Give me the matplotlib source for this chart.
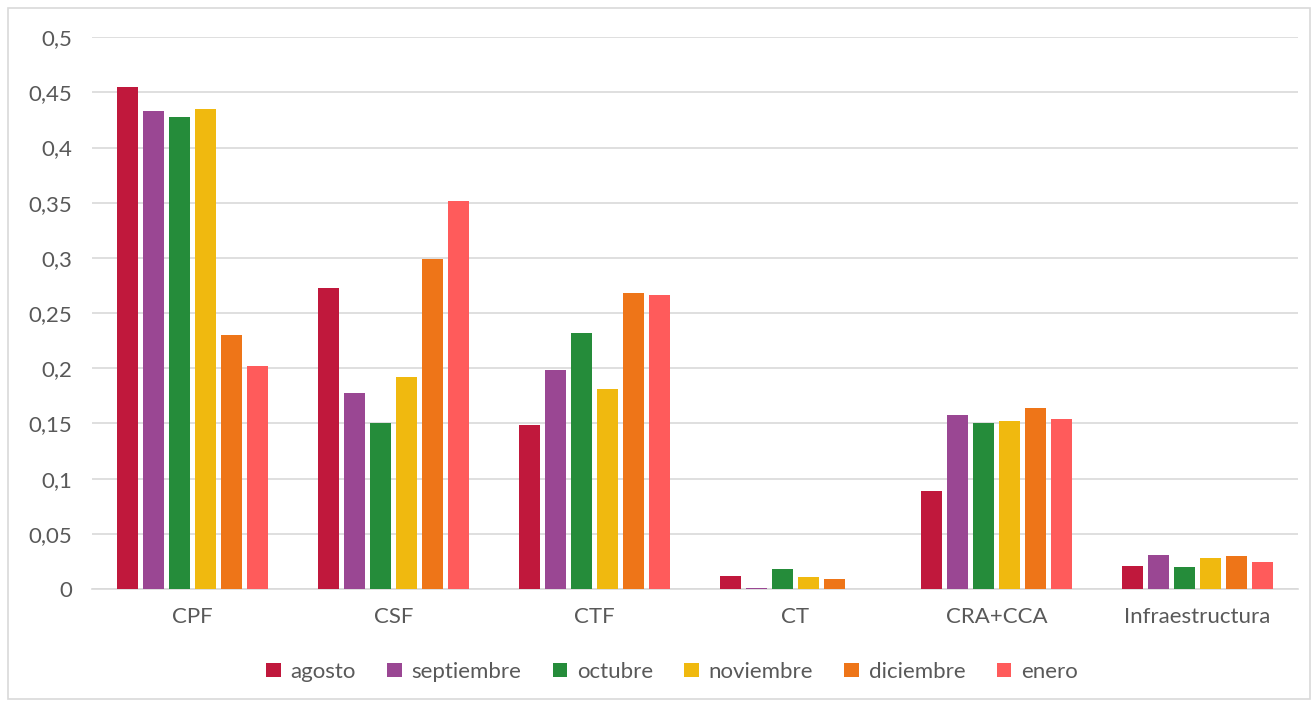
import matplotlib.pyplot as plt
from matplotlib.patches import Rectangle
import numpy as np

plt.rcParams['font.family'] = ['Lato', 'DejaVu Sans']

categorias = ['CPF', 'CSF', 'CTF', 'CT', 'CRA+CCA', 'Infraestructura']
meses = ['agosto', 'septiembre', 'octubre', 'noviembre', 'diciembre', 'enero']
colores = ['#C0183C', '#9A4793', '#258C3A', '#F0B90F', '#EE7518', '#FF5B5B']

agosto = [0.455, 0.273, 0.149, 0.0115, 0.089, 0.0205]
septiembre = [0.433, 0.178, 0.198, 0.001, 0.158, 0.031]
octubre = [0.428, 0.150, 0.232, 0.018, 0.150, 0.0195]
noviembre = [0.435, 0.192, 0.181, 0.011, 0.152, 0.028]
diciembre = [0.230, 0.299, 0.268, 0.009, 0.164, 0.030]
enero = [0.202, 0.352, 0.266, 0.0, 0.154, 0.0245]
series = [agosto, septiembre, octubre, noviembre, diciembre, enero]

fig = plt.figure(figsize=(13.15, 7.02), dpi=100)
ax = fig.add_axes([0.070, 0.161, 0.917, 0.786])

# marco exterior gris claro
fig.patches.append(Rectangle((0.006, 0.004), 0.99, 0.985, transform=fig.transFigure,
                             fill=False, edgecolor='#D9D9D9', linewidth=1.2))

x = np.arange(len(categorias))
paso = 0.13
ancho = 0.105
for i, (mes, vals) in enumerate(zip(meses, series)):
    ax.bar(x + (i - 2.5) * paso, vals, width=ancho, color=colores[i], label=mes, zorder=3)

ax.set_xlim(-0.5, len(categorias) - 0.5)
ax.set_ylim(0, 0.5)
ax.set_yticks(np.arange(0, 0.51, 0.05))
ax.set_yticklabels(['0'] + [('%g' % v).replace('.', ',') for v in np.arange(0.05, 0.51, 0.05)])
ax.set_xticks(x)
ax.set_xticklabels(categorias)
ax.grid(axis='y', color='#D9D9D9', linewidth=1.2, zorder=0)
for s in ['top', 'right', 'left']:
    ax.spines[s].set_visible(False)
ax.spines['bottom'].set_color('#D9D9D9')
ax.spines['bottom'].set_linewidth(1.2)
ax.tick_params(length=0, labelsize=16, colors='#595959', pad=14)
ax.tick_params(axis='x', pad=13)

fig.legend(loc='center', bbox_to_anchor=(0.511, 0.043), ncol=6, frameon=False,
           fontsize=16, labelcolor='#595959', handlelength=0.65, handleheight=0.65,
           handletextpad=0.45, columnspacing=1.4)

fig.savefig('out.png', dpi=100)
